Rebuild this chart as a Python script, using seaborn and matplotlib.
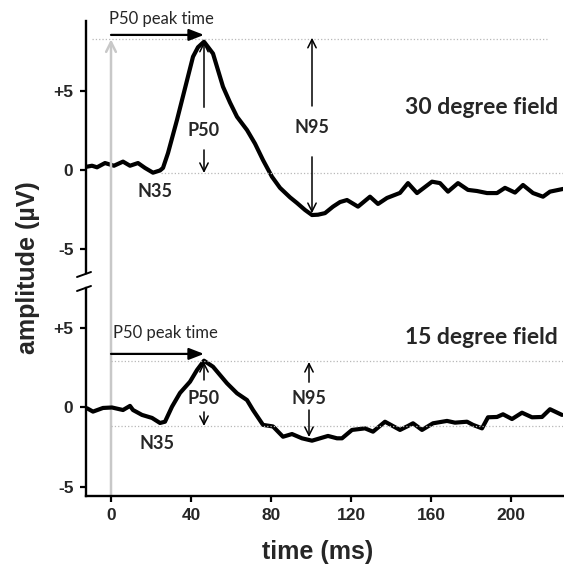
import matplotlib
matplotlib.use("Agg")
import matplotlib.pyplot as plt
import seaborn as sns
from matplotlib.lines import Line2D

# waveform (time in ms, amplitude in uV)
time_30 = [-12, -9.5, -7, -3, 1.5, 6, 9.5, 13.5, 17, 21, 24.5, 26, 28.5, 33, 38, 41, 43.5, 46.5,
           51, 56, 59.5, 63, 68, 72, 76, 80.5, 84.5, 89.5, 93, 97, 100.5, 103.5, 107, 111, 114.5,
           118, 123.5, 129.5, 133.5, 138, 144.5, 148.5, 153, 160.5, 164.5, 168.5, 173.5, 178.5,
           183, 188, 193, 197, 202, 206, 211, 216, 219.5, 226]
amp_30 = [0.24, 0.3, 0.2, 0.47, 0.3, 0.56, 0.3, 0.47, 0.16, -0.14, 0.0, 0.16, 1.1, 3.2, 5.7, 7.2,
          7.8, 8.15, 7.4, 5.3, 4.3, 3.4, 2.56, 1.7, 0.66, -0.4, -1.1, -1.7, -2.06, -2.5, -2.82,
          -2.8, -2.7, -2.29, -2.0, -1.87, -2.29, -1.66, -2.12, -1.74, -1.42, -0.8, -1.43, -0.71,
          -0.8, -1.34, -0.8, -1.23, -1.3, -1.43, -1.43, -1.1, -1.4, -0.92, -1.43, -1.66, -1.34,
          -1.17]

time_15 = [-12, -9, -4, 0.5, 6, 9.5, 11, 15.5, 20.5, 24.5, 27, 30.5, 34.5, 39.5, 43, 46.5, 51, 58,
           63, 68, 71, 76, 81, 86, 90.5, 95.5, 100.5, 104.5, 108.5, 113, 115.5, 120.5, 127, 131,
           137, 144.5, 148.5, 151, 155.5, 161, 168, 172, 178, 181, 185.5, 188.5, 193, 196, 200.5,
           205.5, 210.5, 215.5, 219.5, 225.5]
amp_15 = [-0.05, -0.26, -0.03, 0.0, -0.16, 0.1, -0.16, -0.47, -0.66, -0.98, -0.9, 0.05, 0.92,
          1.63, 2.37, 2.96, 2.58, 1.53, 0.9, 0.47, -0.16, -1.1, -1.2, -1.85, -1.68, -1.95, -2.1,
          -1.95, -1.8, -1.95, -1.95, -1.42, -1.32, -1.53, -0.9, -1.42, -1.17, -1.0, -1.42, -1.0,
          -0.85, -0.96, -0.9, -1.1, -1.32, -0.62, -0.6, -0.43, -0.73, -0.33, -0.62, -0.6, -0.11,
          -0.47]

x_ticks = [0, 40, 80, 120, 160, 200]
y_ticks = [5, 0, -5]
y_tick_labels = ["+5", "0", "-5"]

# marker levels (peak / trough) and times
p50_time = 46.5
n95_time_30 = 100.5
n95_time_15 = 99
peak_30, trough_30 = 8.3, -0.18
peak_15, trough_15 = 2.94, -1.2

sns.set_style("ticks")
tick_font = "Liberation Sans"
note_font = "Lato"

fig = plt.figure(figsize=(5.64, 5.72), dpi=100)
W, H = 564, 572
ax1 = fig.add_axes([86 / W, 1 - 273 / H, 477 / W, (273 - 20.7) / H])
ax2 = fig.add_axes([86 / W, 1 - 496 / H, 477 / W, (496 - 288) / H])

gray = "#c8c8c8"
dot = "#b8b8b8"

for ax, t, a in [(ax1, time_30, amp_30), (ax2, time_15, amp_15)]:
    sns.lineplot(x=t, y=a, ax=ax, color="black", linewidth=3.0, sort=False)
    ax.set_xlim(-12.5, 226)
    ax.set_yticks(y_ticks)
    ax.set_yticklabels(y_tick_labels, fontfamily=tick_font, fontweight="bold", fontsize=12.5)
    ax.tick_params(axis="both", direction="out", length=4, width=1.6, pad=5, color="black")
    for s in ax.spines.values():
        s.set_linewidth(1.7)
        s.set_color("black")
    ax.set_facecolor("none")

ax1.set_ylim(-6.49, 9.48)
ax2.set_ylim(-5.6, 7.56)
sns.despine(ax=ax1, bottom=True)
sns.despine(ax=ax2)
ax1.set_xticks([])
ax2.set_xticks(x_ticks)
ax2.set_xticklabels([str(v) for v in x_ticks], fontfamily=tick_font, fontweight="bold", fontsize=12.5)

# gray stimulus line at t=0, running from the lower axis up to the top peak level
ax1.annotate("", xy=(0, peak_30), xycoords="data", xytext=(0, -5.6), textcoords=ax2.transData,
             arrowprops=dict(arrowstyle="->,head_length=0.7,head_width=0.35", color=gray, lw=1.8,
                             shrinkA=0, shrinkB=0), annotation_clip=False)

# dotted reference levels
ax1.plot([-9.5, 218], [peak_30, peak_30], ls=":", color=dot, lw=0.9)
ax1.plot([25, 226], [trough_30, trough_30], ls=":", color=dot, lw=0.9)
ax2.plot([0, 226], [peak_15, peak_15], ls=":", color=dot, lw=0.9)
ax2.plot([0, 226], [trough_15, trough_15], ls=":", color=dot, lw=0.9)

open_head = dict(arrowstyle="->,head_length=0.6,head_width=0.3", color="black", lw=1.1,
                 shrinkA=0, shrinkB=0)
solid_head = dict(arrowstyle="-|>,head_length=0.9,head_width=0.35", color="black", lw=1.6,
                  shrinkA=0, shrinkB=0)


def arrow(ax, x0, y0, x1, y1, props):
    ax.annotate("", xy=(x1, y1), xytext=(x0, y0), arrowprops=props, annotation_clip=False)


def note(ax, x, y, s, bold=True, size=13, ha="center"):
    ax.text(x, y, s, ha=ha, va="center", fontfamily=note_font,
            fontweight="bold" if bold else "normal", fontsize=size)


# upper panel annotations
arrow(ax1, 0, 8.58, p50_time, 8.58, solid_head)
note(ax1, 25, 9.6, "P50 peak time", bold=False, size=12)
arrow(ax1, p50_time, 4.0, p50_time, 8.15, open_head)
arrow(ax1, p50_time, 1.3, p50_time, -0.16, open_head)
note(ax1, p50_time, 2.56, "P50")
arrow(ax1, n95_time_30, 4.08, n95_time_30, 8.4, open_head)
arrow(ax1, n95_time_30, 0.86, n95_time_30, -2.7, open_head)
note(ax1, n95_time_30, 2.75, "N95")
note(ax1, 22, -1.36, "N35")
note(ax1, 223.5, 4.0, "30 degree field", size=16.5, ha="right")

# lower panel annotations
arrow(ax2, 0, 3.39, p50_time, 3.39, solid_head)
note(ax2, 27, 4.7, "P50 peak time", bold=False, size=12)
arrow(ax2, p50_time, 1.74, p50_time, 2.88, open_head)
arrow(ax2, p50_time, -0.28, p50_time, -1.17, open_head)
note(ax2, p50_time, 0.6, "P50")
arrow(ax2, n95_time_15, 1.6, n95_time_15, 2.88, open_head)
arrow(ax2, n95_time_15, -0.16, n95_time_15, -1.87, open_head)
note(ax2, n95_time_15, 0.6, "N95")
note(ax2, 23, -2.25, "N35")
note(ax2, 223.5, 4.4, "15 degree field", size=16.5, ha="right")

# axis break marks
for y in (277, 291):
    fig.add_artist(Line2D([77 / W, 91 / W], [1 - y / H, 1 - (y - 5) / H], color="black", lw=1.4))

fig.text(28 / W, 1 - 268 / H, "amplitude (\u00b5V)", rotation=90, ha="center", va="center",
         fontfamily=tick_font, fontweight="bold", fontsize=18)
fig.text(318 / W, 1 - 552 / H, "time (ms)", ha="center", va="center",
         fontfamily=tick_font, fontweight="bold", fontsize=18)

fig.savefig("out.png", dpi=100)
